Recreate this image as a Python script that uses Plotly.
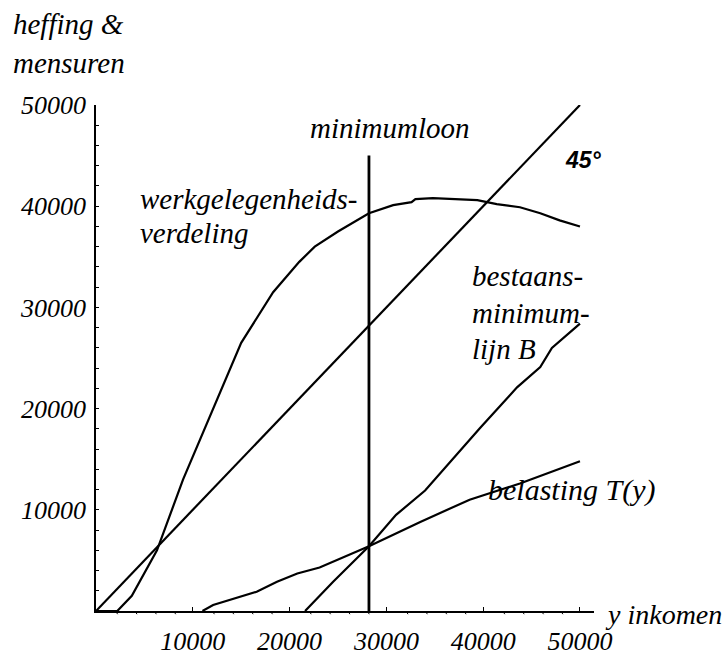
import plotly.graph_objects as go

# ---------------- data ----------------
inc45_x = [0, 3800, 10000, 16000, 22000, 28200, 34000, 40300, 46000, 50000]
inc45_y = [0, 3800, 10000, 16000, 22000, 28200, 34000, 40300, 46000, 50000]

werk_x = [0, 900, 2200, 3700, 6300, 9000, 12300, 15000, 18300, 21000, 22600, 25000,
          28200, 30700, 32600, 33000, 34800, 37100, 39400, 41400, 43800, 45900, 47900, 50000]
werk_y = [0, 0, 0, 1500, 6000, 13000, 20500, 26500, 31500, 34500, 36000, 37500,
          39300, 40100, 40400, 40700, 40800, 40700, 40600, 40200, 39900, 39300, 38600, 38000]

bel_x = [11000, 12100, 16600, 18700, 20800, 23100, 28200, 33500, 38600, 43800, 50000]
bel_y = [0, 600, 1900, 2900, 3700, 4300, 6400, 8800, 11000, 12600, 14800]

bmin_x = [21600, 24500, 28200, 31000, 34000, 37000, 39700, 43500, 45900, 47100, 50000]
bmin_y = [0, 2900, 6400, 9500, 11900, 15200, 18100, 22100, 24100, 26000, 28400]

minloon_x = [28200, 28200]
minloon_y = [0, 45000]

major_ticks = [10000, 20000, 30000, 40000, 50000]
major_labels = ["10000", "20000", "30000", "40000", "50000"]
minor_step = 2000

# ---------------- layout geometry ----------------
W, H = 726, 655
L, R, T, B = 96, 132, 105, 44
XMAX, YMAX = 51450, 50000
PW, PH = W - L - R, H - T - B

def px(xp):
    return (xp - L) / PW

def py(yp):
    return (H - B - yp) / PH

SERIF = "Liberation Serif, Times New Roman, serif"
line_style = dict(color="black", width=2.2)

fig = go.Figure()
for xs, ys in [(inc45_x, inc45_y), (werk_x, werk_y), (bel_x, bel_y), (bmin_x, bmin_y)]:
    fig.add_trace(go.Scatter(x=xs, y=ys, mode="lines", line=line_style,
                             hoverinfo="skip", showlegend=False))
fig.add_trace(go.Scatter(x=minloon_x, y=minloon_y, mode="lines",
                         line=dict(color="black", width=2.8),
                         hoverinfo="skip", showlegend=False))

tickfont = dict(family=SERIF, size=26, color="black", style="italic")

fig.update_xaxes(range=[0, XMAX], showgrid=False, zeroline=False, automargin=False,
                 showline=True, linecolor="black", linewidth=1.5,
                 tickmode="array", tickvals=major_ticks, ticktext=major_labels,
                 ticks="inside", ticklen=4, tickwidth=1, tickcolor="black",
                 tickfont=tickfont, ticklabelstandoff=6, fixedrange=True)
fig.update_yaxes(range=[0, YMAX], showgrid=False, zeroline=False, automargin=False,
                 showline=True, linecolor="black", linewidth=1.5,
                 tickmode="array", tickvals=major_ticks, ticktext=major_labels,
                 ticks="inside", ticklen=3, tickwidth=1, tickcolor="black",
                 minor=dict(ticks="inside", dtick=minor_step, ticklen=3,
                            tickwidth=1, tickcolor="black", showgrid=False),
                 tickfont=tickfont, ticklabelstandoff=3, fixedrange=True)

# slanted minor ticks on the x axis
shapes = []
v = minor_step
while v < XMAX:
    if v % 10000 != 0:
        x0 = v / XMAX
        shapes.append(dict(type="line", xref="paper", yref="paper",
                           x0=x0, y0=0, x1=x0 + 2.3 / PW, y1=-3.2 / PH,
                           line=dict(color="black", width=1)))
    v += minor_step

def ann(text, xp, yp, size=29, family=SERIF, style="italic", xanchor="left"):
    return dict(text=text, x=px(xp), y=py(yp), xref="paper", yref="paper",
                xanchor=xanchor, yanchor="middle", showarrow=False,
                font=dict(family=family, size=size, color="black", style=style))

annotations = [
    ann("heffing &", 11, 24),
    ann("mensuren", 11, 63),
    ann("y inkomen", 603, 614, size=28),
    ann("minimumloon", 390, 128, xanchor="center"),
    ann("<b>45°</b>", 583, 160, size=23, family="Liberation Sans, Arial, sans-serif",
        xanchor="center"),
    ann("werkgelegenheids-", 138, 199),
    ann("verdeling", 138, 233),
    ann("bestaans-", 470, 276),
    ann("minimum-", 470, 313),
    ann("lijn B", 470, 349),
    ann("belasting T(y)", 486, 490, size=30),
]

fig.update_layout(width=W, height=H, margin=dict(l=L, r=R, t=T, b=B),
                  plot_bgcolor="white", paper_bgcolor="white",
                  shapes=shapes, annotations=annotations, showlegend=False)

fig.write_html("out.html", config={"displayModeBar": False},
               post_script="document.body.style.margin='0';document.body.style.overflow='hidden';")
